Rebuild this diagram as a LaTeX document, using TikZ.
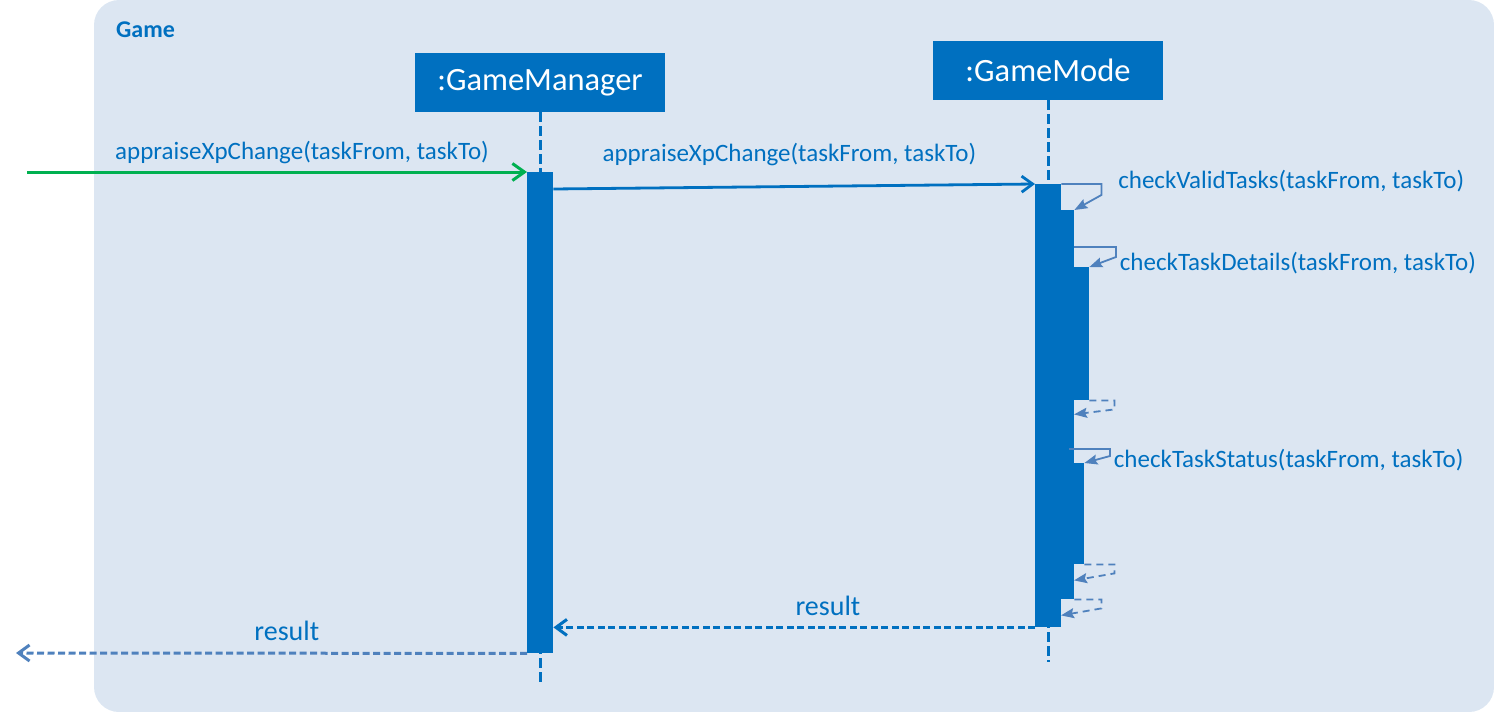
\documentclass[tikz,border=0pt]{standalone}
\usepackage{fontspec}
\setmainfont{Carlito}
\usepackage{tikz}
\usetikzlibrary{arrows.meta,calc}
\definecolor{frame}{HTML}{DCE6F2}
\definecolor{umlblue}{HTML}{0070C0}
\definecolor{selfblue}{HTML}{4F81BD}
\definecolor{callgreen}{HTML}{00B050}
\tikzset{
	head/.style={fill=umlblue, text=white, inner sep=0pt, font=\fontsize{32.5}{39}\selectfont},
	bar/.style={fill=umlblue, anchor=north west, inner sep=0pt, minimum width=26pt},
	life/.style={umlblue, line width=3pt, dash pattern=on 10pt off 4pt},
	lbl/.style={text=umlblue, inner sep=0pt, font=\fontsize{25}{30}\selectfont},
	reslbl/.style={text=umlblue, inner sep=0pt, font=\fontsize{28}{34}\selectfont},
	call/.style={callgreen, line width=3pt, -{Straight Barb[length=12pt,width=17pt]}},
	msg/.style={umlblue, line width=2.8pt, -{Straight Barb[length=11pt,width=16pt]}},
	reply/.style={line width=3pt, dash pattern=on 7pt off 3.5pt, -{Straight Barb[length=11pt,width=16pt]}},
	selfcall/.style={selfblue, line width=1.8pt, -{Stealth[length=13pt,width=10pt,inset=2pt]}},
	selfreply/.style={selfcall, dash pattern=on 7pt off 5pt}
}
\begin{document}
\begin{tikzpicture}[x=1pt, y=-1pt]
	\useasboundingbox (0,0) rectangle (1494,712);
	\fill[frame, rounded corners=25pt] (94,0) rectangle (1494,712);
	\node[anchor=west, text=umlblue, inner sep=0pt, font=\bfseries\fontsize{24}{29}\selectfont] (game) at (116,30) {Game};
	% lifelines
	\node[head, minimum width=250pt, minimum height=59pt] (gm) at (540,82.5) {:GameManager};
	\node[head, minimum width=230pt, minimum height=59pt] (mode) at (1048,70.5) {:GameMode};
	\coordinate (gmend) at (540,685);
	\coordinate (modeend) at (1048,662);
	\draw[life] (gm.south) -- (gmend);
	\draw[life] (mode.south) -- (modeend);
	% activations
	\node[bar, minimum height=481pt] (gmbar) at (527,172) {};
	\node[bar, minimum height=443pt] (modebar) at (1035,184) {};
	\node[bar, minimum width=13pt, minimum height=389pt] (vtbar) at (1061,210) {};
	\node[bar, minimum width=15pt, minimum height=133pt] (tdbar) at (1074,267) {};
	\node[bar, minimum width=10pt, minimum height=101pt] (tsbar) at (1074,463) {};
	% messages
	\coordinate (caller) at (27,172);
	\coordinate (back) at (16,653);
	\draw[call] (caller) -- (gmbar.north west) node[lbl, pos=.55, anchor=base, yshift=13pt]{appraiseXpChange(taskFrom, taskTo)};
	\draw[msg] ($(gmbar.north east)+(0,17)$) -- (modebar.north west) node[lbl, pos=.49, anchor=base, yshift=25pt]{appraiseXpChange(taskFrom, taskTo)};
	\draw[selfcall] (modebar.north east) -- ++(40,0) node[lbl, anchor=base west, xshift=16pt, yshift=-4pt]{checkValidTasks(taskFrom, taskTo)} -- ++(0,11) -- (vtbar.north east);
	\draw[selfcall] ($(tdbar.north west)+(0,-20)$) -- ++(42,0) node[lbl, anchor=base west, xshift=3pt, yshift=-23pt]{checkTaskDetails(taskFrom, taskTo)} -- ++(0,10) -- (tdbar.north east);
	\draw[selfreply] (tdbar.south east) -- ++(25,0) -- ++(0,9) -- ($(tdbar.south west)+(0,14)$);
	\draw[selfcall] ($(tsbar.north west)+(-5,-14)$) -- ++(41,0) node[lbl, anchor=base west, xshift=3pt, yshift=-18pt]{checkTaskStatus(taskFrom, taskTo)} -- ++(0,7) -- (tsbar.north east);
	\draw[selfreply] (tsbar.south east) -- ++(30,0) -- ++(0,9) -- ($(tsbar.south west)+(0,16)$);
	\draw[selfreply] (vtbar.south east) -- ++(27,0) -- ++(0,9) -- ($(vtbar.south west)+(0,16)$);
	\draw[reply, umlblue] (modebar.south west) -- (gmbar.east |- modebar.south west) node[reslbl, pos=.43, anchor=base, yshift=12pt]{result};
	\draw[reply, selfblue] (gmbar.south west) -- (back) node[reslbl, pos=.47, anchor=base, yshift=13pt]{result};
\end{tikzpicture}
\end{document}
